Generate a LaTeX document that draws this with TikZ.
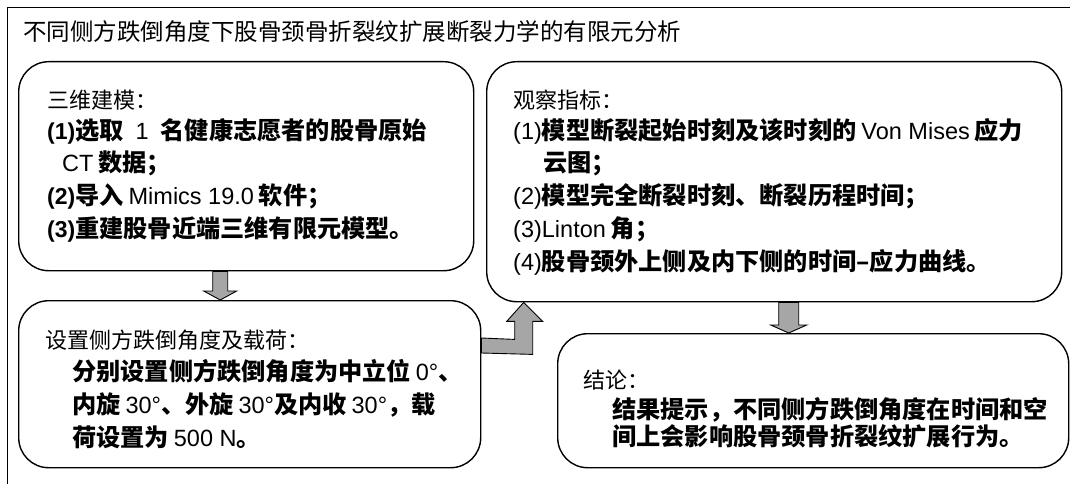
\documentclass[tikz,border=0pt]{standalone}
\usepackage{fontspec}
\setmainfont{Noto Sans CJK SC}
\newfontfamily\la{Liberation Sans}
\usetikzlibrary{calc}
\newcommand\bo[1]{{\fontsize{24.2}{26}\selectfont\bfseries #1}}
\newcommand\lt[1]{{\fontsize{23.5}{26}\selectfont\la #1}}
\newcommand\ltb[1]{{\fontsize{23}{26}\selectfont\la\bfseries #1}}
\tikzset{
  box/.style={draw, line width=1.4pt, rounded corners=30pt, inner sep=0pt, anchor=north west},
  txt/.style={anchor=base west, inner sep=0pt, font=\fontsize{22}{26}\selectfont},
  blockarrow/.style={draw, line width=0.9pt, fill=black!35, line join=miter},
  frame/.style={draw, line width=1pt}
}
\begin{document}
\begin{tikzpicture}[x=1pt, y=1pt]
\useasboundingbox (0,0) rectangle (1070,-484);
\fill[white] (0,0) rectangle (1070,-484);
\draw[frame] (7,-484) -- (7,-8) -- (1070,-8);
\node[txt, font=\fontsize{23.5}{26}\selectfont] (title) at (23,-40.5) {不同侧方跌倒角度下股骨颈骨折裂纹扩展断裂力学的有限元分析};
% boxes
\node[box, minimum width=455pt, minimum height=209pt] (b1) at (18,-61) {};
\node[box, minimum width=575pt, minimum height=240pt] (b2) at (486,-61) {};
\node[box, minimum width=462pt, minimum height=167pt] (b3) at (18,-300) {};
\node[box, minimum width=511pt, minimum height=134pt] (b4) at (557,-333) {};
% box 1 text
\node[txt] (b1l1) at (47,-108.5) {三维建模：};
\node[txt] (b1l2) at (47,-139.5) {\ltb{(1)}\bo{选取}\hspace{12pt}\lt{1}\hspace{12pt}\bo{名健康志愿者的股骨原始}};
\node[txt] (b1l3) at (62,-171.5) {\lt{CT} \bo{数据；}};
\node[txt] (b1l4) at (47,-204.5) {\ltb{(2)}\bo{导入} \lt{Mimics 19.0} \bo{软件；}};
\node[txt] (b1l5) at (47,-237.5) {\ltb{(3)}\bo{重建股骨近端三维有限元模型。}};
% box 2 text
\node[txt] (b2l1) at (513,-108.5) {观察指标：};
\node[txt] (b2l2) at (513,-139.5) {\lt{(1)}\bo{模型断裂起始时刻及该时刻的} \lt{Von Mises} \bo{应力}};
\node[txt] (b2l3) at (543,-171.5) {\bo{云图；}};
\node[txt] (b2l4) at (513,-204.5) {\lt{(2)}\bo{模型完全断裂时刻、断裂历程时间；}};
\node[txt] (b2l5) at (513,-237.5) {\lt{(3)Linton} \bo{角；}};
\node[txt] (b2l6) at (513,-270.5) {\lt{(4)}\bo{股骨颈外上侧及内下侧的时间–应力曲线。}};
% box 3 text
\node[txt] (b3l1) at (45,-348.5) {设置侧方跌倒角度及载荷：};
\node[txt] (b3l2) at (72,-380.5) {\bo{分别设置侧方跌倒角度为中立位} \lt{0°}\bo{、}};
\node[txt] (b3l3) at (72,-413.5) {\bo{内旋} \lt{30°}\bo{、外旋} \lt{30°}\bo{及内收} \lt{30°}\bo{，载}};
\node[txt] (b3l4) at (72,-446.5) {\bo{荷设置为} \lt{500 N}\bo{。}};
% box 4 text
\node[txt] (b4l1) at (583,-388.5) {结论：};
\node[txt] (b4l2) at (612,-418.5) {\bo{结果提示，不同侧方跌倒角度在时间和空}};
\node[txt] (b4l3) at (612,-445.5) {\bo{间上会影响股骨颈骨折裂纹扩展行为。}};
% arrow 1: box1 -> box3
\coordinate (a1s) at ($(b1.south)+(-26,0)$);
\coordinate (a1e) at ($(b3.north)+(-29.5,0)$);
\draw[blockarrow] ($(a1s)+(-7.5,0)$) -- ($(a1s)+(7.5,0)$) -- ($(a1e)+(7.5,9)$) -- ($(a1e)+(16.5,9)$) -- (a1e) -- ($(a1e)+(-16.5,9)$) -- ($(a1e)+(-7.5,9)$) -- cycle;
% arrow 2: box2 -> box4
\coordinate (a2s) at ($(b2.south)+(14.5,0)$);
\coordinate (a2e) at ($(b4.north)+(-24.5,0)$);
\draw[blockarrow] ($(a2s)+(-10,0)$) -- ($(a2s)+(10,0)$) -- ($(a2e)+(10,8)$) -- ($(a2e)+(18,8)$) -- (a2e) -- ($(a2e)+(-18,8)$) -- ($(a2e)+(-10,8)$) -- cycle;
% elbow arrow: box3 -> box2
\coordinate (e1) at ($(b3.north east)+(0,-38)$);
\coordinate (e2) at ($(b2.south)+(-250.5,0)$);
\draw[blockarrow] (e1) -- ($(e2)+(-9,-37)$) -- ($(e2)+(-9,-19)$) -- ($(e2)+(-17,-19)$) -- (e2) -- ($(e2)+(19,-19)$) -- ($(e2)+(9,-19)$) -- ($(e2)+(9,-52)$) -- ($(e1)+(0,-15)$) -- cycle;
\end{tikzpicture}
\end{document}
